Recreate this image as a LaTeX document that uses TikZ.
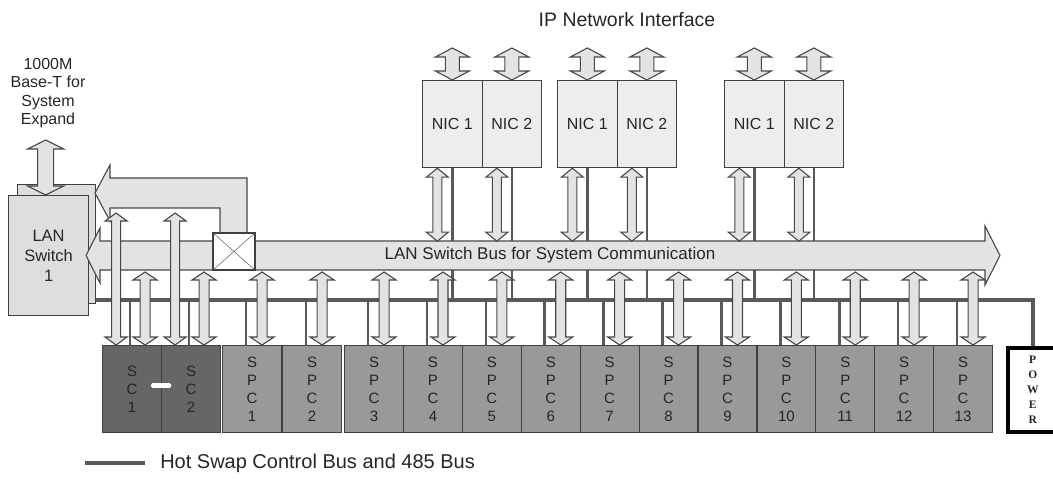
\documentclass[tikz,border=0pt]{standalone}
\usepackage{fontspec}
\setmainfont{Liberation Sans}
\newfontfamily\powerfont{Liberation Serif}
\usetikzlibrary{calc}
\newcommand\fsz[2]{\fontsize{#1}{#2}\selectfont}
\tikzset{
  >=latex,
  {box/.style}={rectangle, draw=black!75, line width=1.2pt, anchor=north west,
                inner sep=0, align=center, text=black!85},
  {card/.style}={box, minimum width=59pt, minimum height=87pt, font=\fsz{15}{18}},
  {sc card/.style}={card, fill=black!60},
  {spc card/.style}={card, fill=black!40},
  {nic/.style}={box, fill=black!7, minimum width=59.5pt, minimum height=87pt,
                font=\fsz{16}{19}},
  {lan box/.style}={box, fill=black!13, font=\fsz{16.5}{20}},
  {bus/.style}={draw=black!72, line width=1.1pt, fill=black!11},
  {hot swap/.style}={draw=black!65, line width=3.5pt},
  {drop/.style}={draw=black!65, line width=2.6pt},
  {label/.style}={inner sep=0, align=center, text=black!85},
}
% hollow double arrow: top end, bottom end, half shaft, half head, head length
\newcommand\dblarrow[5]{%
  \filldraw[bus] let \p1=#1, \p2=#2 in
    (\x1-#3,\y1-#5) -- (\x1-#4,\y1-#5) -- (\p1) -- (\x1+#4,\y1-#5) -- (\x1+#3,\y1-#5)
    -- (\x2+#3,\y2+#5) -- (\x2+#4,\y2+#5) -- (\p2) -- (\x2-#4,\y2+#5)
    -- (\x2-#3,\y2+#5) -- cycle;}

\begin{document}
\begin{tikzpicture}[x=1pt,y=-1pt]
    \useasboundingbox (0,0) rectangle (1053,481);
    % switch, NICs, cards
    \node[lan box, minimum width=78pt, minimum height=119pt] (lanback) at (17,184) {};
    \node[lan box, minimum width=80pt, minimum height=120pt] (lan) at (8,195) {LAN\\Switch\\1};
    \foreach \k/\xx in {a/422, b/557, c/724} {
      \node[nic] (nic\k1) at (\xx,80) {NIC 1};
      \node[nic] (nic\k2) at ({\xx+59.5},80) {NIC 2};
    }
    \node[sc card] (sc1) at (102,345) {S\\C\\1};
    \node[sc card] (sc2) at (161,345) {S\\C\\2};
    \foreach \i in {1,2}
      \node[spc card] (spc\i) at ({222+(\i-1)*60},345) {S\\P\\C\\\i};
    \foreach \i in {3,...,13}
      \node[spc card, minimum width=58.9pt] (spc\i) at ({344+(\i-3)*58.9},345) {S\\P\\C\\\i};
    \node[box, line width=3.5pt, draw=black, fill=white, minimum width=50pt,
          minimum height=84pt, font=\powerfont\bfseries\fsz{11.5}{15}] (power) at (1006,346) {P\\O\\W\\E\\R};
    % hot swap control bus
    \draw[hot swap] (lanback.east |- 0,300) -| (power.north);
    \foreach \i in {1,2} {\draw[drop] ($(sc\i.north)+(-2,0)$) -- ++(0,-45);}
    \foreach \i in {1,...,13} {\draw[drop] ($(spc\i.north)+(-6,0)$) -- ++(0,-45);}
    \foreach \k in {a1,a2,b1,b2,c1,c2} {\draw[drop] (nic\k.south) -- ++(0,133);}
    % LAN switch buses
    \filldraw[bus] (247,233) -- (247,178) -- (110,178) -- (110,165) -- (95,193)
      -- (110,221) -- (110,208) -- (220,208) -- (220,233) -- cycle;
    \filldraw[bus] (100,241) -- (985,241) -- (985,226) -- (1000,255.5) -- (985,285)
      -- (985,270) -- (100,270) -- (100,283) -- (86,255.5) -- (100,228) -- cycle;
    \node[label, font=\fsz{17}{20}] (busname) at (550,255) {LAN Switch Bus for System Communication};
    \node[box, anchor=center, fill=white, minimum width=42pt, minimum height=37pt] (cross) at (234,251.5) {};
    \draw[black!75] (cross.north west) -- (cross.south east) (cross.north east) -- (cross.south west);
    % taps
    \dblarrow{($(lan.north)+(-3,-55)$)}{($(lan.north)+(-3,0)$)}{8pt}{18pt}{9pt}
    \foreach \i in {1,2} {
      \dblarrow{($(sc\i.north)+(-16,-132)$)}{($(sc\i.north)+(-16,0)$)}{4.5pt}{11pt}{8pt}
      \dblarrow{($(sc\i.north)+(13,-73)$)}{($(sc\i.north)+(13,0)$)}{5pt}{12pt}{8pt}
    }
    \foreach \i in {1,...,13} {
      \dblarrow{($(spc\i.north)+(10,-73)$)}{($(spc\i.north)+(10,0)$)}{5pt}{12pt}{8pt}
    }
    \foreach \k in {a1,a2,b1,b2,c1,c2} {
      \dblarrow{($(nic\k.north)+(0,-32)$)}{(nic\k.north)}{7pt}{17pt}{9pt}
      \dblarrow{($(nic\k.south)+(-15,0)$)}{($(nic\k.south)+(-15,73)$)}{4.5pt}{11pt}{9pt}
    }
    \draw[white, line width=4.5pt, line cap=round] ($(sc1.east)+(-9,-3.5)$) -- ($(sc2.west)+(8,-3.5)$);
    % texts
    \node[label, font=\fsz{19.5}{22}] (title) at (627,20) {IP Network Interface};
    \node[label, font=\fsz{16}{18.5}] (expand) at (48,93) {1000M\\Base-T for\\System\\Expand};
    \coordinate (leg) at (85,463);
    \draw[hot swap, line width=4.5pt] (leg) -- ++(60,0)
      node[label, anchor=west, xshift=13pt, font=\fsz{20}{22}] (legend) {Hot Swap Control Bus and 485 Bus};
\end{tikzpicture}
\end{document}
